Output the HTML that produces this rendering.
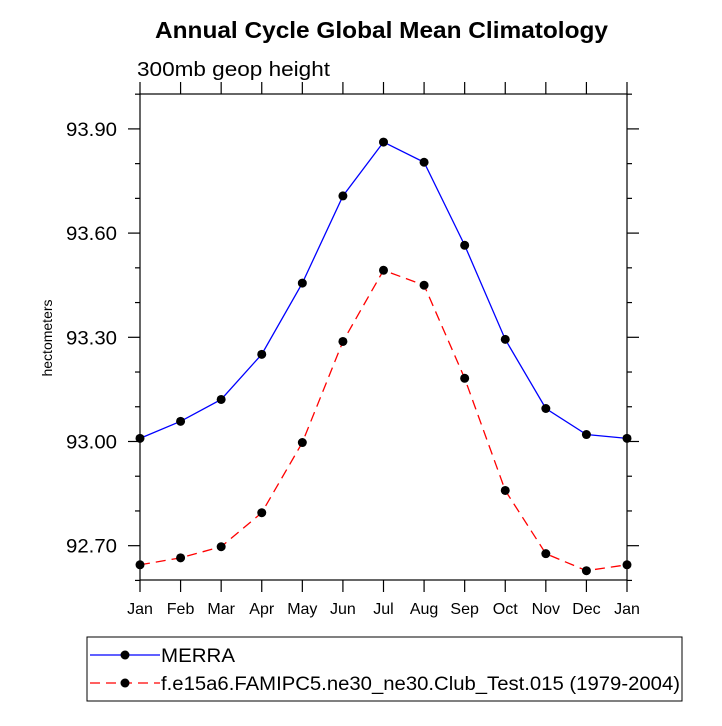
<!DOCTYPE html>
<html><head><meta charset="utf-8"><style>
body{margin:0;background:#fff;}
svg text{font-family:"Liberation Sans",Helvetica,Arial,sans-serif;fill:#000;}
</style></head><body>
<svg width="722" height="721" viewBox="0 0 722 721" xmlns="http://www.w3.org/2000/svg">
<text x="155" y="38" textLength="453" lengthAdjust="spacingAndGlyphs" font-size="23" font-weight="bold">Annual Cycle Global Mean Climatology</text>
<text x="137" y="76" textLength="193" lengthAdjust="spacingAndGlyphs" font-size="20">300mb geop height</text>
<text transform="translate(52,338) rotate(-90)" text-anchor="middle" font-size="14">hectometers</text>
<g id="axes"></g>
<g id="series"></g>
<g id="legend"></g>
</svg>
<script>
const months=["Jan","Feb","Mar","Apr","May","Jun","Jul","Aug","Sep","Oct","Nov","Dec","Jan"];
const merra=[93.009,93.058,93.121,93.251,93.456,93.707,93.862,93.804,93.565,93.294,93.095,93.020,93.009];
const model=[92.645,92.665,92.697,92.795,92.997,93.288,93.493,93.450,93.182,92.859,92.677,92.628,92.645];
const yTicks=[92.70,93.00,93.30,93.60,93.90];
const yTickLabels=["92.70","93.00","93.30","93.60","93.90"];
const legendLabels=["MERRA","f.e15a6.FAMIPC5.ne30_ne30.Club_Test.015 (1979-2004)"];

const NS="http://www.w3.org/2000/svg";
const L=140,R=627,T=94,B=580,YMIN=92.6012,YMAX=94.0005;
const xs=i=>L+(R-L)*i/(months.length-1);
const ys=v=>B-(v-YMIN)/(YMAX-YMIN)*(B-T);
function mk(tag,attrs,parent){const e=document.createElementNS(NS,tag);for(const k in attrs)e.setAttribute(k,attrs[k]);parent.appendChild(e);return e;}
const ax=document.getElementById('axes');
const frame=mk('rect',{x:L,y:T,width:R-L,height:B-T,fill:'none',stroke:'#000','stroke-width':1.2},ax);


for(let v=92.6;v<=94.0001;v+=0.1){
  const y=ys(v);
  const isMajor=yTicks.some(t=>Math.abs(t-v)<1e-6);
  const len=isMajor?12:5;
  mk('line',{x1:L-len,y1:y,x2:L,y2:y,stroke:'#000','stroke-width':1.2},ax);
  mk('line',{x1:R,y1:y,x2:R+len,y2:y,stroke:'#000','stroke-width':1.2},ax);
}
yTicks.forEach((v,i)=>{
  const t=mk('text',{x:66,y:ys(v)+7,textLength:51,lengthAdjust:'spacingAndGlyphs','font-size':19},ax);
  t.textContent=yTickLabels[i];
  
  
});
months.forEach((m,i)=>{
  const x=xs(i);
  mk('line',{x1:x,y1:B,x2:x,y2:B+12,stroke:'#000','stroke-width':1.2},ax);
  mk('line',{x1:x,y1:T,x2:x,y2:T-12,stroke:'#000','stroke-width':1.2},ax);
  const t=mk('text',{x:x,y:B+34,'text-anchor':'middle','font-size':16},ax);
  t.textContent=m;
  
  
});
const sg=document.getElementById('series');
function drawSeries(vals,color,dash,name){
  const pts=vals.map((v,i)=>xs(i)+','+ys(v)).join(' ');
  const pl=mk('polyline',{points:pts,fill:'none',stroke:color,'stroke-width':1.3,'stroke-dasharray':dash},sg);
  
  
  vals.forEach((v,i)=>{
    const c=mk('circle',{cx:xs(i),cy:ys(v),r:4.5,fill:'#000'},sg);
    
    
  });
}
drawSeries(merra,'#0000ff','none','merra');
drawSeries(model,'#ff0000','10 6','model');
const lg=document.getElementById('legend');
const box=mk('rect',{x:87,y:637,width:595,height:64,fill:'#fff',stroke:'#000','stroke-width':1},lg);


const legendW=[74,519];
[['#0000ff','none'],['#ff0000','10 6']].forEach((s,i)=>{
  const y=655+i*28;
  mk('line',{x1:90,y1:y,x2:160,y2:y,stroke:s[0],'stroke-width':1.3,'stroke-dasharray':s[1]},lg);
  mk('circle',{cx:125,cy:y,r:4.5,fill:'#000'},lg);
  const t=mk('text',{x:161,y:y+7,textLength:legendW[i],lengthAdjust:'spacingAndGlyphs','font-size':19},lg);
  t.textContent=legendLabels[i];
  
  
});
</script>
</body></html>
